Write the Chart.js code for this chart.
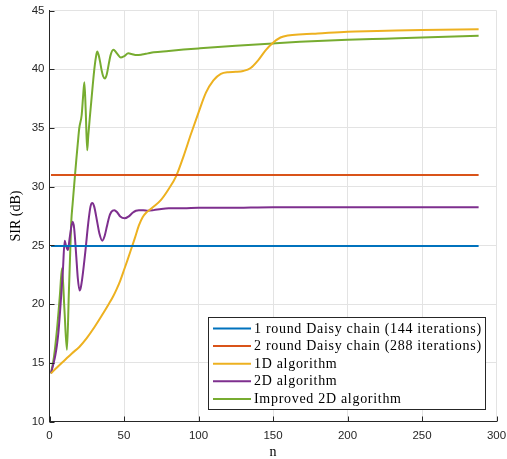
<!DOCTYPE html>
<html>
<head>
<meta charset="utf-8">
<script src="https://cdn.jsdelivr.net/npm/chart.js@4.4.0/dist/chart.umd.min.js"></script>
<style>
  html, body { margin: 0; padding: 0; background: #fff; }
  #wrap { width: 507px; height: 459px; }
</style>
</head>
<body>
<div id="wrap"><canvas id="sirChart" width="507" height="459"></canvas></div>
<script>
// series names (legend)
const seriesLabels = [
  '1 round Daisy chain (144 iterations)',
  '2 round Daisy chain (288 iterations)',
  '1D algorithm',
  '2D algorithm',
  'Improved 2D algorithm'
];
const seriesColors = ['#0072BD', '#D95319', '#EDB120', '#7E2F8E', '#77AC30'];

// axis ticks
const xTicks = [0, 50, 100, 150, 200, 250, 300];
const yTicks = [10, 15, 20, 25, 30, 35, 40, 45];

// daisy chain references (flat)
const daisy1N = [1, 288];
const daisy1Sir = [24.95, 24.95];
const daisy2N = [1, 288];
const daisy2Sir = [31.0, 31.0];

// 1D algorithm
const oneDN = [1, 5, 10, 15, 20, 25, 30, 35, 40, 42.5, 45, 47.5, 50, 52.5, 55, 57.5, 60, 62.5, 65, 67.5,
  70, 75, 80, 85, 90, 95, 100, 105, 110, 115, 120, 125, 130, 135, 140, 145, 150, 155, 160, 170,
  180, 200, 220, 250, 288];
const oneDSir = [14.1, 14.6, 15.2, 15.8, 16.35, 17.1, 18.0, 19.0, 20.05, 20.6, 21.25, 22.0, 22.9, 23.8, 24.75, 25.7, 26.7, 27.4, 27.8, 28.05,
  28.3, 28.9, 29.8, 30.9, 32.6, 34.5, 36.3, 38.0, 39.05, 39.6, 39.75, 39.78, 39.85, 40.1, 40.75, 41.6, 42.25, 42.7, 42.88, 42.98,
  43.05, 43.2, 43.25, 43.34, 43.4];

// 2D algorithm
const twoDN = [1, 3, 4, 5, 6, 7, 8, 9, 10.2, 11, 12.4, 13.5, 15.5, 16.5, 18, 19, 20.2, 21, 22, 24,
  26, 27.5, 28.7, 30, 32, 33.5, 35.4, 37, 38.5, 40, 41.5, 43.5, 45.5, 47.5, 50.5, 53, 56, 58, 60, 63,
  66, 70, 75, 80, 90, 100, 120, 150, 200, 288];
const twoDSir = [14.1, 15.1, 15.7, 16.5, 17.6, 19.2, 21.0, 22.9, 25.4, 25.0, 24.6, 25.6, 27.0, 26.5, 24.0, 22.2, 21.15, 21.4, 22.2, 24.4,
  26.9, 28.3, 28.6, 28.3, 27.0, 26.0, 25.4, 25.8, 26.6, 27.4, 27.85, 28.0, 27.8, 27.45, 27.3, 27.45, 27.8, 27.95, 28.0, 28.0,
  27.95, 28.0, 28.1, 28.15, 28.15, 28.2, 28.2, 28.25, 28.25, 28.25];

// improved 2D algorithm
const improvedN = [1, 3, 5, 7, 8.4, 10, 11.7, 13, 14, 14.6, 15.5, 17, 18, 19, 20, 21.6, 22.5, 23.4, 24.3, 25.3,
  26, 27, 28, 29, 30, 31, 32, 33, 34, 35, 36, 37.2, 38.5, 40, 41, 42.8, 44, 45.5, 47.8, 50,
  52.9, 55, 58.5, 62, 66, 70, 80, 90, 101, 125, 150, 168, 200, 225, 250, 288];
const improvedSir = [14.1, 15.5, 17.8, 20.8, 23.05, 19.6, 16.1, 21.0, 24.8, 27.0, 28.5, 30.8, 32.3, 33.7, 35.0, 36.1, 37.6, 38.9, 36.5, 33.1,
  34.3, 35.8, 37.2, 38.6, 39.9, 40.9, 41.5, 41.2, 40.6, 39.9, 39.4, 39.2, 39.6, 40.6, 41.2, 41.65, 41.55, 41.3, 41.0, 41.1,
  41.35, 41.3, 41.2, 41.25, 41.35, 41.45, 41.55, 41.67, 41.78, 42.0, 42.2, 42.33, 42.5, 42.6, 42.7, 42.85];

const seriesN = [daisy1N, daisy2N, oneDN, twoDN, improvedN];
const seriesSir = [daisy1Sir, daisy2Sir, oneDSir, twoDSir, improvedSir];

const axisColor = '#262626';
const gridColor = '#e3e3e3';
const serif = '"Liberation Serif", "Times New Roman", serif';
const sans = '"Liberation Sans", Arial, Helvetica, sans-serif';

function pairUp(ns, vals) {
  return ns.map((n, i) => ({x: n, y: vals[i]}));
}

const datasets = seriesLabels.map((label, i) => ({
  label: label,
  data: pairUp(seriesN[i], seriesSir[i]),
  borderColor: seriesColors[i],
  backgroundColor: seriesColors[i],
  borderWidth: 2,
  pointRadius: 0,
  fill: false,
  cubicInterpolationMode: 'monotone'
}));

// matlab-ish inward ticks
const inwardTicks = {
  id: 'inwardTicks',
  afterDatasetsDraw(chart) {
    const {ctx, chartArea, scales} = chart;
    ctx.save();
    ctx.strokeStyle = axisColor;
    ctx.lineWidth = 1;
    ctx.beginPath();
    xTicks.forEach(v => {
      const px = Math.round(scales.x.getPixelForValue(v)) + 0.5;
      ctx.moveTo(px, chartArea.bottom);
      ctx.lineTo(px, chartArea.bottom - 5);
    });
    yTicks.forEach(v => {
      const py = Math.round(scales.y.getPixelForValue(v)) + 0.5;
      ctx.moveTo(chartArea.left, py);
      ctx.lineTo(chartArea.left + 5, py);
    });
    ctx.stroke();
    ctx.restore();
  }
};

// legend box inside the axes, bottom right
const boxLegend = {
  id: 'boxLegend',
  afterDraw(chart) {
    const {ctx, chartArea} = chart;
    const sets = chart.data.datasets;
    ctx.save();
    ctx.font = '14px ' + serif;
    ctx.letterSpacing = '0.7px';
    let maxW = 0;
    sets.forEach(d => { maxW = Math.max(maxW, ctx.measureText(d.label).width); });
    const rowH = 17.6;
    const lineLen = 38;
    const w = 4.5 + lineLen + 3 + maxW + 4;
    const h = rowH * sets.length + 5;
    const right = Math.round(chartArea.right - 12) + 0.5;
    const bottom = Math.round(chartArea.bottom - 13) + 0.5;
    const left = Math.round(right - w) + 0.5;
    const top = Math.round(bottom - h) + 0.5;
    ctx.fillStyle = '#fff';
    ctx.fillRect(left, top, right - left, bottom - top);
    ctx.strokeStyle = axisColor;
    ctx.lineWidth = 1;
    ctx.strokeRect(left, top, right - left, bottom - top);
    ctx.textBaseline = 'middle';
    ctx.textAlign = 'left';
    sets.forEach((d, i) => {
      const y = top + 11 + i * rowH;
      ctx.strokeStyle = d.borderColor;
      ctx.lineWidth = 2;
      ctx.beginPath();
      ctx.moveTo(left + 4.5, y);
      ctx.lineTo(left + 4.5 + lineLen, y);
      ctx.stroke();
      ctx.fillStyle = '#000';
      ctx.fillText(d.label, left + 4.5 + lineLen + 3, y + 0.5);
    });
    ctx.restore();
  }
};

const ctx = document.getElementById('sirChart').getContext('2d');
const chart = new Chart(ctx, {
  type: 'line',
  data: { datasets: datasets },
  options: {
    responsive: false,
    animation: false,
    devicePixelRatio: 1,
    layout: { padding: { top: 10.5, right: 10.5, left: 0, bottom: 0 } },
    plugins: {
      legend: { display: false },
      tooltip: { enabled: false }
    },
    scales: {
      x: {
        type: 'linear',
        min: 0,
        max: 300,
        afterFit(scale) {
          scale.height = 37.5;
          scale.paddingLeft = 0;
          scale.paddingRight = 0;
        },
        afterBuildTicks(scale) { scale.ticks = xTicks.map(v => ({value: v})); },
        grid: { color: gridColor, drawTicks: false },
        border: { display: true, color: axisColor, width: 1 },
        ticks: { color: axisColor, padding: 7, font: { family: sans, size: 11.5 } },
        title: { display: true, text: 'n', color: '#000', font: { family: serif, size: 14, lineHeight: 1 }, padding: { top: 0, bottom: 0 } }
      },
      y: {
        type: 'linear',
        min: 10,
        max: 45,
        afterFit(scale) {
          scale.width = 49.5;
          scale.paddingTop = 0;
          scale.paddingBottom = 0;
        },
        afterBuildTicks(scale) { scale.ticks = yTicks.map(v => ({value: v})); },
        grid: { color: gridColor, drawTicks: false },
        border: { display: true, color: axisColor, width: 1 },
        ticks: { color: axisColor, padding: 5, font: { family: sans, size: 11.5 } },
        title: { display: true, text: 'SIR (dB)', color: '#000', font: { family: serif, size: 14 }, padding: { top: 8, bottom: 0 } }
      }
    }
  },
  plugins: [inwardTicks, boxLegend]
});
</script>
</body>
</html>
